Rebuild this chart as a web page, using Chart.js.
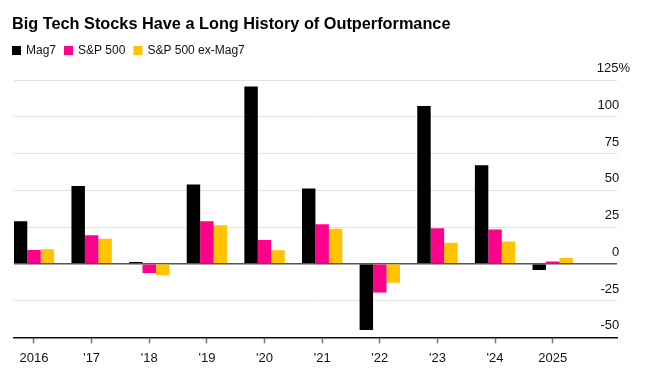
<!DOCTYPE html>
<html>
<head>
<meta charset="utf-8">
<script src="https://cdn.jsdelivr.net/npm/chart.js@4/dist/chart.umd.min.js"></script>
<style>
  body { margin: 0; background: #fff; }
  #wrap { width: 646px; height: 375px; position: relative; }
</style>
</head>
<body>
<div id="wrap"><canvas id="chart"></canvas></div>
<script>
// values (yearly % return)
const years = [2016, 2017, 2018, 2019, 2020, 2021, 2022, 2023, 2024, 2025];
const mag7 = [29, 53, 1.2, 54, 120.5, 51.3, -45, 107.3, 67, -4.1];
const sp500 = [9.5, 19.4, -6.2, 28.9, 16.3, 26.9, -19.4, 24.2, 23.3, 1.6];
const spExMag7 = [10, 17, -7.7, 26.3, 9.3, 23.8, -12.9, 14.3, 15.2, 3.9];
const yTicks = [-50, -25, 0, 25, 50, 75, 100, 125];

const title = "Big Tech Stocks Have a Long History of Outperformance";
const FONT = "'Liberation Sans', Arial, sans-serif";

function toPoints(vals) {
  return vals.map((v, i) => ({ x: years[i], y: v }));
}

// title + legend drawn at the top left
const header = {
  id: "header",
  afterDraw(chart) {
    const ctx = chart.ctx;
    ctx.save();
    ctx.fillStyle = "#000";
    ctx.font = "bold 16.3px " + FONT;
    ctx.textBaseline = "alphabetic";
    ctx.textAlign = "left";
    ctx.fillText(title, 12, 28.5);

    ctx.font = "12px " + FONT;
    ctx.textBaseline = "middle";
    let x = 12;
    chart.data.datasets.forEach(ds => {
      ctx.fillStyle = ds.backgroundColor;
      ctx.fillRect(x, 46, 9, 9);
      ctx.fillStyle = "#111";
      ctx.fillText(ds.label, x + 14, 51);
      x += 14 + ctx.measureText(ds.label).width + 8;
    });
    ctx.restore();
  }
};

new Chart(document.getElementById("chart"), {
  type: "bar",
  data: {
    datasets: [
      { label: "Mag7", data: toPoints(mag7), backgroundColor: "#000000" },
      { label: "S&P 500", data: toPoints(sp500), backgroundColor: "#ff008c" },
      { label: "S&P 500 ex-Mag7", data: toPoints(spExMag7), backgroundColor: "#ffc300" }
    ]
  },
  options: {
    responsive: true,
    maintainAspectRatio: false,
    animation: false,
    categoryPercentage: 0.7,
    barPercentage: 1,
    layout: { padding: { left: 14, right: 3, top: 80, bottom: 2 } },
    plugins: { legend: { display: false }, title: { display: false }, tooltip: { enabled: false } },
    scales: {
      x: {
        type: "linear",
        offset: false,
        min: 2015.653,
        max: 2026.116,
        afterBuildTicks: scale => { scale.ticks = years.map(v => ({ value: v })); },
        grid: { offset: false, drawOnChartArea: false, drawTicks: true, tickLength: 6, color: "#777", tickWidth: 1.5 },
        border: { display: true, color: "#111", width: 1.5 },
        ticks: {
          autoSkip: false,
          maxRotation: 0,
          padding: 7,
          color: "#111",
          font: { family: FONT, size: 13 },
          callback: v => (v === 2016 || v === 2025) ? String(v) : "'" + String(v).slice(2)
        }
      },
      y: {
        position: "right",
        min: -50,
        max: 125,
        afterBuildTicks: scale => { scale.ticks = yTicks.map(v => ({ value: v })); },
        grid: {
          drawTicks: false,
          color: c => c.tick && c.tick.value === 0 ? "#555" : "#e2e2e2",
          lineWidth: c => c.tick && c.tick.value === 0 ? 1.5 : 1
        },
        border: { display: false },
        ticks: {
          mirror: true,
          padding: 13,
          labelOffset: -11.5,
          color: "#111",
          font: { family: FONT, size: 13 },
          callback: v => v === 125 ? "125%" : String(v) + "   "
        }
      }
    }
  },
  plugins: [header]
});
</script>
</body>
</html>
